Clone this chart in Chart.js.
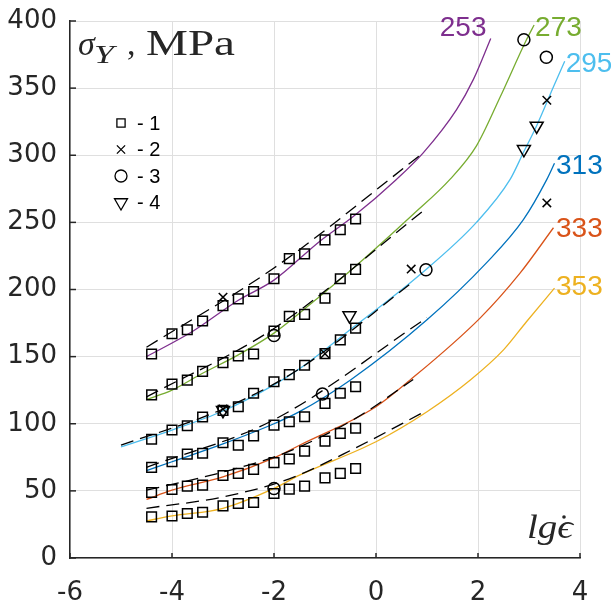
<!DOCTYPE html>
<html>
<head>
<meta charset="utf-8">
<script src="https://cdn.jsdelivr.net/npm/chart.js@4.4.0/dist/chart.umd.min.js"></script>
<style>
  html, body { margin: 0; padding: 0; background: #fff; }
</style>
</head>
<body>
<canvas id="c" width="611" height="604"></canvas>
<script>
// tick values
const xTicks = [-6, -4, -2, 0, 2, 4];
const yTicks = [0, 50, 100, 150, 200, 250, 300, 350, 400];

// temperatures (curve labels)
const temps = ['253', '273', '295', '313', '333', '353'];

// model curves (solid, coloured)
const fitX253 = [-4.5, -3.6, -2.7, -2, -1.1, -0.44, 0.4, 0.93, 1.58, 1.91, 2.25];
const fitY253 = [150, 168.7, 192, 207, 236, 254.5, 282, 302, 334, 356.5, 387];
const fitX273 = [-4.5, -4, -3.4, -2.7, -2, -1.1, -0.44, 0.73, 1.45, 1.97, 2.43, 2.95, 3.1];
const fitY273 = [118, 125, 137.6, 151.3, 167.5, 195, 216, 256, 282, 307, 343, 386, 397];
const fitX295 = [-5, -4, -3, -2, -1.5, -0.44, 0.86, 1.97, 2.63, 2.89, 3.15, 3.48, 3.7];
const fitY295 = [82.8, 95.3, 109.5, 129, 141, 172, 211, 250, 282, 302, 322, 351, 370];
const fitX313 = [-4.5, -4, -3, -2, -1.5, -0.5, 1, 2.17, 2.89, 3.35, 3.5];
const fitY313 = [65, 71.7, 85, 100, 109, 132.6, 177.4, 220, 252, 282, 294];
const fitX333 = [-4.5, -4, -3, -2, -1.5, 0, 0.67, 2.04, 2.82, 3.48];
const fitY333 = [43.6, 50.5, 60.4, 74.6, 84, 112.7, 132.6, 178.7, 212, 246];
const fitX353 = [-4.5, -4, -3, -2, -1.5, 0, 1, 1.85, 2.5, 2.95, 3.5];
const fitY353 = [27.6, 31.3, 37, 51.8, 61.7, 86.6, 109, 132.6, 155, 176, 201];

// second model (dashed, black)
const dashX253 = [-4.5, -2, 0.9];
const dashY253 = [157, 216, 301];
const dashX273 = [-4.5, -2, 0.94];
const dashY273 = [120, 171, 259];
const dashX295 = [-5, -3, -1.5, 0.7];
const dashY295 = [84, 111, 141, 205];
const dashX313 = [-4.5, -2, 1];
const dashY313 = [67.5, 103, 179];
const dashX333 = [-4.5, -3, -1.8, -0.4, 0.73];
const dashY333 = [50.5, 64, 78, 104, 133];
const dashX353 = [-4.5, -3, -1.7, -0.4, 1];
const dashY353 = [37, 45.5, 59, 82, 110];

// experiments, series 1 (squares) - same strain rates for every temperature
const sqX = [-4.4, -4.0, -3.7, -3.4, -3.0, -2.7, -2.4, -2.0, -1.7, -1.4, -1.0, -0.7, -0.4];
const sq253 = [152, 167, 170, 176.5, 188, 193, 198.5, 208, 223, 226.5, 237, 244.5, 252.5];
const sq273 = [121.5, 129.5, 132.5, 139, 145.5, 150.5, 152, 169, 180, 181.5, 193.5, 208, 215];
const sq295 = [88.5, 95.3, 98.5, 105, 110, 112.7, 122.7, 131.3, 136.6, 143.6, 152.2, 162.5, 171.2];
const sq313 = [67.5, 71.7, 77.4, 78, 85.8, 84, 91, 99, 101.5, 105.2, 115.2, 122.7, 127.6];
const sq333 = [48.8, 51, 53.5, 54.3, 61.5, 63, 66, 71, 73.7, 79.6, 87.1, 92.8, 96.6];
const sq353 = [30.6, 31.3, 33.1, 34.1, 38.8, 40.6, 41.3, 48, 51.3, 53.5, 59.7, 63, 66.7];

// series 2 (crosses), 3 (circles), 4 (triangles)
const crossX = [-3.0, -3.0, -1.0, 0.69, 3.35, 3.35];
const crossY = [194.3, 111, 152.2, 215.2, 341, 264.5];
const circX = [-2.0, -1.05, -2.0, 0.98, 2.9, 3.34];
const circY = [165.7, 122.2, 51.8, 214.7, 386, 373];
const triX = [-3.0, -0.52, 2.9, 3.15];
const triY = [110, 180.6, 304.4, 321.8];

const colors = ['#7E2F8E', '#77AC30', '#4DBEEE', '#0072BD', '#D95319', '#EDB120'];
const INK = '#262626';

function pts(xs, ys) { return xs.map((v, i) => ({ x: v, y: ys[i] })); }

const fits = [pts(fitX253, fitY253), pts(fitX273, fitY273), pts(fitX295, fitY295),
              pts(fitX313, fitY313), pts(fitX333, fitY333), pts(fitX353, fitY353)];
const dashes = [pts(dashX253, dashY253), pts(dashX273, dashY273), pts(dashX295, dashY295),
                pts(dashX313, dashY313), pts(dashX333, dashY333), pts(dashX353, dashY353)];
const squares = [sq253, sq273, sq295, sq313, sq333, sq353].flatMap(row => pts(sqX, row));

function markerSet(label, data, style, radius, rotation) {
  return {
    label, data, order: 0,
    showLine: false,
    pointStyle: style, pointRadius: radius, pointRotation: rotation || 0,
    pointBorderColor: '#000', pointBackgroundColor: 'rgba(0,0,0,0)', pointBorderWidth: 1.5
  };
}

const datasets = [
  markerSet('1', squares, 'rect', 6.8),
  markerSet('2', pts(crossX, crossY), 'crossRot', 6),
  markerSet('3', pts(circX, circY), 'circle', 6),
  markerSet('4', pts(triX, triY), 'triangle', 7.5, 180)
];
dashes.forEach((d, i) => datasets.push({
  label: 'dash ' + temps[i], data: d, order: 1, showLine: true, pointRadius: 0,
  borderColor: '#000', borderWidth: 1.3, borderDash: [13, 7], cubicInterpolationMode: 'monotone'
}));
fits.forEach((d, i) => datasets.push({
  label: temps[i], data: d, order: 2, showLine: true, pointRadius: 0,
  borderColor: colors[i], borderWidth: 1.3, cubicInterpolationMode: 'monotone'
}));

// curve labels: left edge / vertical middle in data units
const tempLabelPos = [[1.25, 394.5], [3.12, 394.5], [3.72, 367.6], [3.53, 291.6], [3.53, 244.6], [3.53, 201.3]];

function stretchText(ctx, txt, x, y, w) {
  const m = ctx.measureText(txt).width;
  ctx.save();
  ctx.translate(x, y);
  ctx.scale(w / m, 1);
  ctx.fillText(txt, 0, 0);
  ctx.restore();
}

const overlay = {
  id: 'overlay',
  afterDraw(chart) {
    const { ctx, chartArea: a, scales: { x, y } } = chart;
    ctx.save();

    // inward tick marks, MATLAB style
    ctx.strokeStyle = INK;
    ctx.lineWidth = 1.5;
    xTicks.forEach(v => {
      const p = x.getPixelForValue(v);
      ctx.beginPath(); ctx.moveTo(p, a.bottom); ctx.lineTo(p, a.bottom - 5); ctx.stroke();
    });
    yTicks.forEach(v => {
      const p = y.getPixelForValue(v);
      ctx.beginPath(); ctx.moveTo(a.left, p); ctx.lineTo(a.left + 6, p); ctx.stroke();
    });

    // temperature labels
    ctx.font = '28px "Liberation Sans", Arial, sans-serif';
    ctx.textAlign = 'left';
    ctx.textBaseline = 'middle';
    temps.forEach((t, i) => {
      ctx.fillStyle = colors[i];
      ctx.fillText(t, x.getPixelForValue(tempLabelPos[i][0]), y.getPixelForValue(tempLabelPos[i][1]));
    });

    // legend inside the axes
    const rows = [['rect', 5.8, 0], ['crossRot', 5.8, 0], ['circle', 6, 0], ['triangle', 7.5, 180]];
    ctx.font = '20px "Liberation Sans", Arial, sans-serif';
    rows.forEach((r, i) => {
      const ly = a.top + 102 + i * 26.5;
      ctx.strokeStyle = '#000';
      ctx.fillStyle = 'rgba(0,0,0,0)';
      ctx.lineWidth = 1.3;
      Chart.helpers.drawPoint(ctx, { pointStyle: r[0], radius: r[1], rotation: r[2], borderWidth: 1.3 }, a.left + 51, ly);
      ctx.fillStyle = '#000';
      ctx.fillText('- ' + (i + 1), a.left + 67, ly + 1);
    });

    // y-axis title inside the axes
    ctx.fillStyle = INK;
    ctx.textBaseline = 'alphabetic';
    ctx.font = 'italic 34px "Liberation Serif", "DejaVu Serif", serif';
    ctx.fillText('σ', a.left + 8, a.top + 34);
    ctx.font = 'italic 25px "Liberation Serif", "DejaVu Serif", serif';
    stretchText(ctx, 'Y', a.left + 24, a.top + 42, 20);
    ctx.font = '34px "Liberation Serif", "DejaVu Serif", serif';
    ctx.fillText(',', a.left + 57, a.top + 34);
    ctx.font = '35px "Liberation Serif", "DejaVu Serif", serif';
    stretchText(ctx, 'MPa', a.left + 76, a.top + 34, 89);

    // x-axis title inside the axes
    ctx.font = 'italic 33px "Liberation Serif", "DejaVu Serif", serif';
    stretchText(ctx, 'lgϵ', a.right - 53, a.bottom - 20, 46);
    ctx.beginPath();
    ctx.arc(a.right - 16, a.bottom - 41, 1.8, 0, Math.PI * 2);
    ctx.fill();

    ctx.restore();
  }
};

const tickFont = { family: '"DejaVu Sans", Arial, sans-serif', size: 26 };

new Chart(document.getElementById('c'), {
  type: 'scatter',
  data: { datasets },
  options: {
    responsive: false,
    animation: false,
    layout: { padding: { top: 21, right: 31, left: 0, bottom: 0 } },
    plugins: { legend: { display: false }, tooltip: { enabled: false } },
    scales: {
      x: {
        type: 'linear', min: -6, max: 4,
        afterBuildTicks: s => { s.ticks = xTicks.map(v => ({ value: v })); },
        afterFit: s => { s.height = 46; s.paddingLeft = 0; s.paddingRight = 0; },
        grid: { color: '#dfdfdf', lineWidth: 1, drawTicks: false },
        border: { color: INK, width: 1.5 },
        ticks: { padding: 20, color: INK, font: tickFont }
      },
      y: {
        type: 'linear', min: 0, max: 400,
        afterBuildTicks: s => { s.ticks = yTicks.map(v => ({ value: v })); },
        afterFit: s => { s.width = 70; s.paddingTop = 0; s.paddingBottom = 0; },
        grid: { color: '#dfdfdf', lineWidth: 1, drawTicks: false },
        border: { color: INK, width: 1.5 },
        ticks: { padding: 13, color: INK, font: tickFont }
      }
    }
  },
  plugins: [overlay]
});
</script>
</body>
</html>
